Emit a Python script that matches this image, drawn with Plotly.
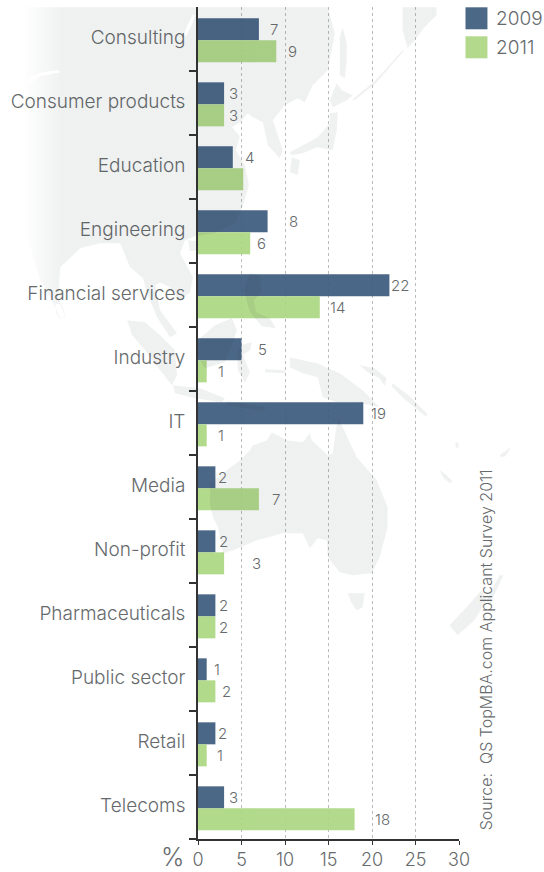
import urllib.parse
import plotly.graph_objects as go

categories = ["Consulting", "Consumer products", "Education", "Engineering",
              "Financial services", "Industry", "IT", "Media", "Non-profit",
              "Pharmaceuticals", "Public sector", "Retail", "Telecoms"]
values_2009 = [7, 3, 4, 8, 22, 5, 19, 2, 2, 2, 1, 2, 3]
values_2011 = [9, 3, 5.2, 6, 14, 1, 1, 7, 3, 2, 2, 1, 18]
# Education 2011 carries no printed value
labels_2009 = ["7", "3", "4", "8", "22", "5", "19", "2", "2", "2", "1", "2", "3"]
labels_2011 = ["9", "3", "", "6", "14", "1", "1", "7", "3", "2", "2", "1", "18"]
x_ticks = [0, 5, 10, 15, 20, 25, 30]

# Horizontal gap between a bar's end and the centre of its value label
gaps_2009 = [15, 9, 17, 26, 11, 21, 15, 7, 8, 8, 10, 7, 9]
gaps_2011 = [16, 9, 0, 11, 18, 14, 14, 17, 32, 8, 11, 13, 28]

WIDTH, HEIGHT = 544, 872
LEFT, RIGHT, TOP, BOTTOM = 198, 459.5, 6.7, 838.7
FONT = "Inter"
TEXT = "#666a6c"
AXIS = "#333333"
BLUE, GREEN = "#3c5b7d", "#acd782"
BLUE_KEY, GREEN_KEY = "#4c6887", "#b3da8c"


def px_x(x):
    return (x - LEFT) / (RIGHT - LEFT)


def px_y(y):
    return (BOTTOM - y) / (BOTTOM - TOP)


# Backdrop map of Asia-Pacific, outlined in page pixels
LAND = [
    [(15, 7), (328, 7), (335, 33), (330, 60), (328, 70), (313, 85), (305, 102), (298, 98),
     (285, 105), (273, 120), (283, 150), (280, 158), (268, 145), (263, 122), (253, 117),
     (248, 113), (240, 122), (232, 127), (240, 136), (236, 150), (245, 165), (249, 185),
     (243, 205), (236, 222), (215, 233), (195, 236), (185, 240), (180, 253), (193, 277),
     (190, 293), (177, 300), (170, 287), (160, 282), (155, 285), (160, 310), (177, 333),
     (170, 337), (157, 317), (147, 293), (143, 278), (130, 267), (120, 243), (100, 243),
     (80, 248), (60, 267), (58, 297), (65, 317), (60, 318), (53, 303), (40, 280), (28, 240),
     (15, 200)],
    [(186, 36), (192, 24), (195, 15), (193, 14), (188, 24), (183, 36)],
    [(28, 84), (40, 76), (60, 72), (58, 70), (42, 72), (30, 76)],
    [(343, 27), (347, 43), (347, 60), (345, 78), (340, 75), (340, 57), (340, 37)],
    [(403, 7), (437, 7), (437, 15), (425, 27), (415, 40), (408, 48), (403, 30)],
    [(337, 83), (342, 90), (353, 95), (347, 100), (333, 107), (330, 100)],
    [(338, 112), (337, 130), (333, 150), (317, 147), (303, 153), (292, 155), (290, 152),
     (307, 143), (318, 137), (330, 123), (330, 113)],
    [(292, 157), (300, 160), (298, 175), (290, 172)],
    [(353, 99), (375, 81), (403, 50), (404, 51), (376, 83), (355, 100)],
    [(188, 240), (198, 241), (198, 250), (190, 251)],
    [(250, 273), (260, 275), (262, 292), (254, 300), (256, 312), (270, 318), (276, 328),
     (262, 326), (250, 312), (244, 290)],
    [(55, 303), (62, 305), (65, 316), (60, 319), (56, 313)],
    [(127, 320), (145, 322), (160, 335), (175, 350), (177, 375), (172, 385), (160, 370),
     (145, 350), (132, 335)],
    [(173, 385), (200, 388), (225, 398), (222, 402), (195, 398), (175, 393)],
    [(227, 401), (245, 403), (266, 407), (264, 411), (240, 407), (227, 405)],
    [(200, 338), (215, 325), (232, 318), (237, 330), (232, 345), (225, 362), (205, 368),
     (197, 355)],
    [(240, 345), (252, 342), (250, 350), (243, 355), (250, 372), (245, 382), (238, 370),
     (237, 355)],
    [(265, 369), (285, 370), (285, 373), (265, 372)],
    [(290, 357), (303, 360), (317, 363), (340, 373), (363, 390), (380, 407), (357, 402),
     (337, 402), (323, 397), (318, 377), (303, 373), (290, 367)],
    [(360, 365), (375, 368), (387, 378), (385, 386), (380, 378), (368, 372)],
    [(393, 383), (410, 396), (428, 414), (426, 416), (406, 400), (392, 386)],
    [(272, 432), (287, 440), (303, 442), (310, 433), (312, 440), (328, 455), (333, 453),
     (338, 417), (343, 427), (357, 457), (377, 480), (388, 507), (388, 527), (380, 557),
     (372, 573), (353, 575), (340, 572), (328, 557), (327, 540), (318, 538), (310, 548),
     (303, 533), (283, 533), (257, 540), (233, 550), (223, 553), (218, 527), (213, 517),
     (210, 505), (210, 483), (240, 460), (250, 450), (253, 445), (267, 440)],
    [(348, 593), (365, 593), (363, 607), (357, 610), (352, 603)],
    [(450, 625), (466, 608), (482, 590), (487, 600), (475, 620), (458, 635)],
    [(487, 600), (500, 575), (504, 575), (497, 590), (490, 605)],
    [(440, 470), (446, 474), (453, 481), (451, 483), (444, 478)],
    [(456, 442), (459, 443), (459, 448), (456, 447)],
    [(501, 454), (506, 451), (511, 447), (510, 450), (506, 456), (501, 457)],
]

map_path = " ".join(
    "M" + " L".join(f"{x},{y}" for x, y in ring) + " Z" for ring in LAND
)
# Translucent land darkens whatever lies under it; the west edge fades out to white
map_svg = (
    f'<svg xmlns="http://www.w3.org/2000/svg" width="{WIDTH}" height="{HEIGHT}" '
    f'viewBox="0 0 {WIDTH} {HEIGHT}"><defs>'
    '<linearGradient id="g" gradientUnits="userSpaceOnUse" x1="22" x2="62" y1="0" y2="0">'
    '<stop offset="0" stop-color="#1a2a2a" stop-opacity="0"/>'
    '<stop offset="1" stop-color="#1a2a2a" stop-opacity="0.068"/></linearGradient>'
    '</defs>'
    f'<path d="{map_path}" fill="url(#g)" fill-rule="evenodd"/></svg>'
)
map_source = "data:image/svg+xml;charset=utf-8," + urllib.parse.quote(map_svg)

positions = list(range(len(categories)))
BAR_WIDTH = 0.344
OFFSET_2009 = -0.323
OFFSET_2011 = 0.021
LABEL_NUDGE = 0.03

fig = go.Figure()
fig.add_bar(name="2009", orientation="h", y=positions, x=values_2009, width=BAR_WIDTH,
            offset=OFFSET_2009, marker=dict(color=BLUE, line_width=0), opacity=0.92,
            showlegend=False, hoverinfo="x+y")
fig.add_bar(name="2011", orientation="h", y=positions, x=values_2011, width=BAR_WIDTH,
            offset=OFFSET_2011, marker=dict(color=GREEN, line_width=0), opacity=0.92,
            showlegend=False, hoverinfo="x+y")

label_font = dict(family=FONT, size=15, color=TEXT, weight=300)
annotations = []
for series, labels, gaps, offset in (
    (values_2009, labels_2009, gaps_2009, OFFSET_2009),
    (values_2011, labels_2011, gaps_2011, OFFSET_2011),
):
    for i, (value, label, gap) in enumerate(zip(series, labels, gaps)):
        if label:
            annotations.append(dict(
                x=value, y=i + offset + BAR_WIDTH / 2, xref="x", yref="y", text=label,
                showarrow=False, xanchor="center", yanchor="middle", xshift=gap,
                font=label_font,
            ))

page_text = [
    ("%", 172.5, 856.5, 25, 0, "center"),
    ("2009", 495, 18, 19, 0, "left"),
    ("2011", 495, 47, 19, 0, "left"),
]
for text, x, y, size, angle, anchor in page_text:
    annotations.append(dict(
        x=px_x(x), y=px_y(y), xref="paper", yref="paper", text=text, showarrow=False,
        xanchor=anchor, yanchor="middle", textangle=angle,
        font=dict(family=FONT, size=size, color=TEXT, weight=300),
    ))
annotations.append(dict(
    x=px_x(486), y=px_y(832), xref="paper", yref="paper", showarrow=False,
    text="Source:  QS TopMBA.com Applicant Survey 2011", textangle=-90,
    xanchor="center", yanchor="bottom",
    font=dict(family=FONT, size=16, color=TEXT, weight=300),
))

key_shapes = []
for color, top in ((BLUE_KEY, 7), (GREEN_KEY, 36)):
    key_shapes.append(dict(
        type="rect", xref="paper", yref="paper", x0=px_x(466), x1=px_x(488),
        y0=px_y(top), y1=px_y(top + 22), fillcolor=color, line_width=0,
    ))

fig.update_layout(
    width=WIDTH, height=HEIGHT,
    margin=dict(l=LEFT, r=WIDTH - RIGHT, t=TOP, b=HEIGHT - BOTTOM, pad=0, autoexpand=False),
    paper_bgcolor="white", plot_bgcolor="rgba(0,0,0,0)",
    barmode="overlay",
    showlegend=False,
    annotations=annotations,
    shapes=key_shapes,
    images=[dict(
        source=map_source, xref="paper", yref="paper", layer="above",
        x=px_x(0), y=px_y(0), sizex=WIDTH / (RIGHT - LEFT), sizey=HEIGHT / (BOTTOM - TOP),
        xanchor="left", yanchor="top", sizing="stretch",
    )],
    xaxis=dict(
        range=[0, 30], tickmode="array", tickvals=x_ticks, ticks="outside", ticklen=4,
        tickwidth=1, tickcolor=AXIS, showline=True, linecolor=AXIS, linewidth=1.5,
        showgrid=True, gridcolor="#bcbcbc", griddash="dot", gridwidth=1, zeroline=False,
        tickfont=dict(family=FONT, size=18, color=TEXT, weight=300),
        layer="below traces",
    ),
    yaxis=dict(
        range=[12.5, -0.5], tickmode="array", tickvals=[p - LABEL_NUDGE for p in positions],
        ticktext=categories, ticks="", ticklabelstandoff=7, showline=True, linecolor=AXIS,
        linewidth=1.5, showgrid=False, zeroline=False,
        tickfont=dict(family=FONT, size=19, color=TEXT, weight=300),
        minor=dict(tickmode="array", tickvals=[p + 0.5 for p in positions], ticks="outside",
                   ticklen=7, tickwidth=1.5, tickcolor=AXIS),
    ),
)

fig.write_html("out.html")
